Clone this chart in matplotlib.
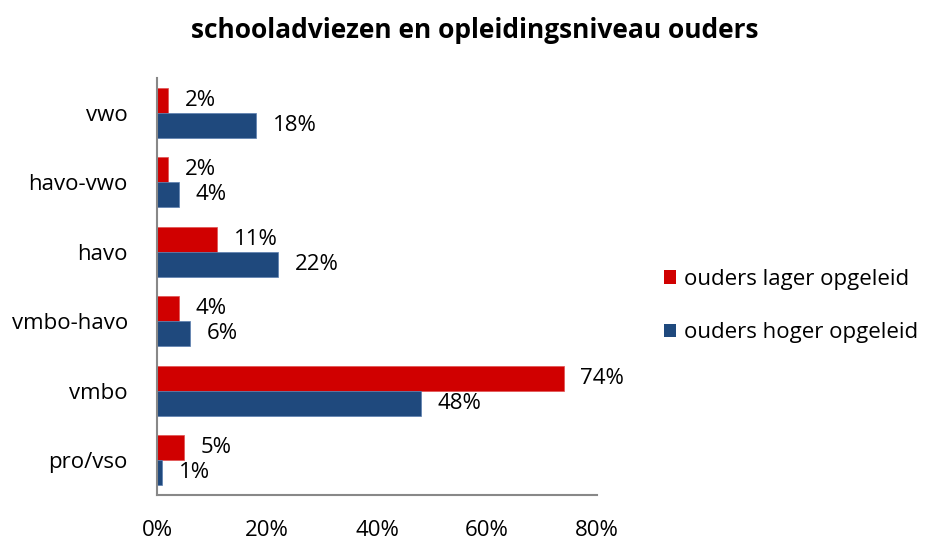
import matplotlib
matplotlib.use("Agg")
import matplotlib.pyplot as plt
import numpy as np
from matplotlib.patches import Patch

categories = ["vwo", "havo-vwo", "havo", "vmbo-havo", "vmbo", "pro/vso"]
lager = [2, 2, 11, 4, 74, 5]
hoger = [18, 4, 22, 6, 48, 1]
series_names = ["ouders lager opgeleid", "ouders hoger opgeleid"]
xticks = [0, 20, 40, 60, 80]
title = "schooladviezen en opleidingsniveau ouders"

red = "#d00000"
blue = "#1f497d"

plt.rcParams["font.family"] = ["Open Sans", "DejaVu Sans"]
fig = plt.figure(figsize=(9.28, 5.41), dpi=100)
ax = fig.add_axes([157/928, 1-495/541, 440/928, (495-78)/541])

n = len(categories)
y = np.arange(n)[::-1]
h = 0.36
ax.barh(y + h/2, lager, height=h, color=red, edgecolor="#e05050", linewidth=0.5)
ax.barh(y - h/2, hoger, height=h, color=blue, edgecolor="#5b7fb0", linewidth=0.5)

fs = 16
for yi, v in zip(y, lager):
    ax.text(v + 3.0, yi + h/2, f"{v}%", va="center", ha="left", fontsize=fs)
for yi, v in zip(y, hoger):
    ax.text(v + 3.0, yi - h/2, f"{v}%", va="center", ha="left", fontsize=fs)

ax.set_xlim(0, 80)
ax.set_ylim(-0.5, n - 0.5)
ax.set_xticks(xticks)
ax.set_xticklabels([f"{t}%" for t in xticks], fontsize=fs)
ax.set_yticks(y)
ax.set_yticklabels(categories, fontsize=fs)
ax.tick_params(axis="both", length=0)
ax.tick_params(axis="x", pad=18)
ax.tick_params(axis="y", pad=21)
for s in ["top", "right"]:
    ax.spines[s].set_visible(False)
for s in ["left", "bottom"]:
    ax.spines[s].set_color("#888888")
    ax.spines[s].set_linewidth(1.5)

handles = [Patch(facecolor=red), Patch(facecolor=blue)]
fig.legend(handles, series_names, loc="center left", bbox_to_anchor=(657/928, 1-306/541),
           frameon=False, fontsize=fs, handlelength=0.55, handleheight=0.55,
           handletextpad=0.35, labelspacing=1.45, borderaxespad=0, borderpad=0.3)

fig.text(475/928, 1-30/541, title, ha="center", va="center", fontsize=19, fontweight="bold")

fig.savefig("out.png", dpi=100)
